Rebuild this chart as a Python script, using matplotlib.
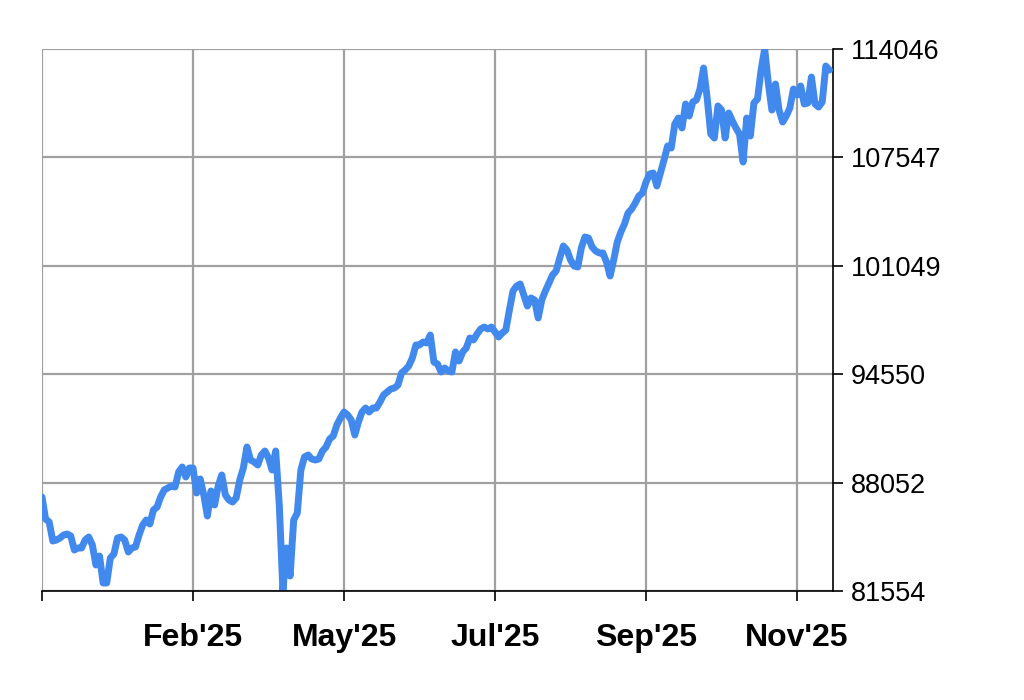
import matplotlib
matplotlib.use("Agg")
import matplotlib.pyplot as plt
import numpy as np

values = [
    87189, 85870, 85690, 84551, 84611, 84731, 84911, 84971, 84851, 84012,
    84132, 84132, 84611, 84791, 84312, 83113, 83652, 82034, 82034, 83532,
    83772, 84731, 84791, 84611, 83892, 84132, 84192, 84911, 85511, 85810,
    85571, 86410, 86590, 87189, 87609, 87729, 87849, 87789, 88688, 88988,
    88388, 88928, 88928, 87429, 88268, 87309, 86050, 87549, 86710, 87849,
    88508, 87309, 87009, 86889, 87129, 88208, 88928, 90187, 89407, 89287,
    89107, 89707, 89947, 89527, 88808, 89947, 86710, 81554, 84132, 82453,
    85810, 86230, 88808, 89587, 89707, 89467, 89407, 89467, 89947, 90187,
    90666, 90846, 91505, 91925, 92285, 92105, 91805, 90906, 91685, 92285,
    92524, 92285, 92524, 92524, 92884, 93304, 93484, 93663, 93723, 93903,
    94623, 94803, 95042, 95522, 96301, 96301, 96481, 96421, 96901, 95282,
    95162, 94683, 94922, 94743, 94683, 95882, 95342, 95882, 96121, 96721,
    96601, 96961, 97260, 97380, 97260, 97380, 97081, 96781, 97021, 97200,
    98399, 99538, 99838, 99958, 99299, 98639, 99119, 98999, 97920, 98999,
    99538, 100018, 100498, 100737, 101517, 102236, 101996, 101397, 101037, 100977,
    102116, 102776, 102716, 102176, 101936, 101816, 101816, 101277, 100438, 101397,
    102476, 103075, 103555, 104214, 104454, 104814, 105233, 105413, 106073, 106552,
    106612, 105833, 106612, 107392, 108231, 108111, 109550, 109909, 109310, 110749,
    110029, 110869, 110989, 111648, 112907, 111108, 108950, 108710, 110629, 110389,
    108710, 110209, 109730, 109310, 108950, 107272, 109909, 108830, 110809, 111048,
    112787, 114046, 112008, 110389, 111948, 110389, 109670, 110029, 110509, 111648,
    111288, 111828, 110749, 110809, 112367, 110749, 110569, 110869, 113026, 112787,
]

x_tick_index = [0, 42, 84, 126, 168, 210]
x_tick_labels = ["", "Feb'25", "May'25", "Jul'25", "Sep'25", "Nov'25"]
y_min = 81554
y_max = 114046
y_tick_labels = ["81554", "88052", "94550", "101049", "107547", "114046"]

FONT = ["Liberation Sans", "DejaVu Sans"]

fig = plt.figure(figsize=(10.24, 7.0), dpi=100)
ax = fig.add_axes([42/1024, 109/700, (833-42)/1024, (591-49)/700])

xs = np.arange(len(values))
ax.plot(xs, values, color="#4289EE", lw=5.0, solid_capstyle="round",
        solid_joinstyle="round", zorder=3)

ax.set_xlim(0, 220)
ax.set_ylim(y_min, y_max)

yt = np.linspace(y_min, y_max, 6)
ax.set_yticks(yt)
ax.set_yticklabels(y_tick_labels)
ax.set_xticks(x_tick_index)
ax.set_xticklabels(x_tick_labels)

ax.yaxis.tick_right()
ax.grid(True, color="#A0A0A0", lw=1.6, zorder=0)
for s in ["left", "top"]:
    ax.spines[s].set_visible(False)
ax.spines["bottom"].set_color("black")
ax.spines["bottom"].set_linewidth(1.2)
ax.spines["right"].set_color("black")
ax.spines["right"].set_linewidth(1.2)
ax.spines["bottom"].set_zorder(4)

ax.tick_params(axis="x", direction="out", length=7, width=1.2, color="black", pad=16)
ax.tick_params(axis="y", direction="out", length=7, width=1.2, color="black", pad=6)

for lab in ax.get_yticklabels():
    lab.set_fontfamily(FONT)
    lab.set_fontsize(19.5)
    lab.set_color("black")
for lab in ax.get_xticklabels():
    lab.set_fontfamily(FONT)
    lab.set_fontsize(23)
    lab.set_fontweight("bold")
    lab.set_color("black")

fig.savefig("out.png", dpi=100)
